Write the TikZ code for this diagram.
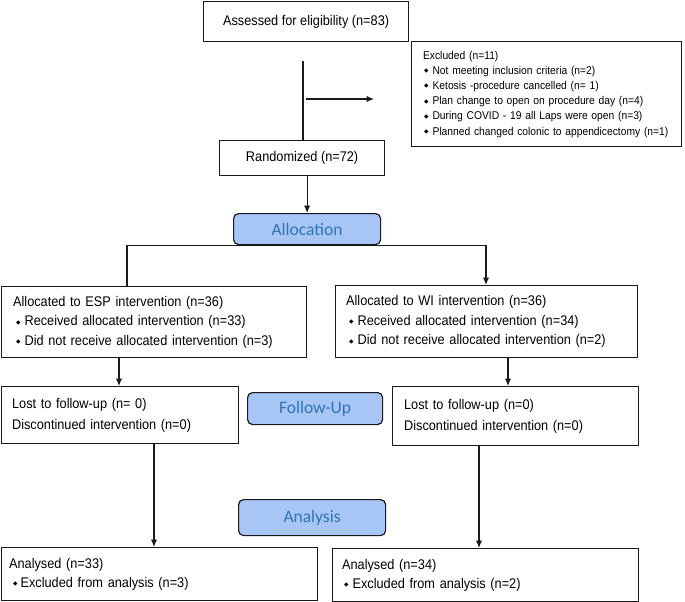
\documentclass[tikz,border=0pt]{standalone}
\usepackage{fontspec}
\setmainfont[FakeStretch=0.91]{Liberation Sans}
\newfontfamily\carl{Carlito}
\newfontfamily\djv{DejaVu Sans}
\usetikzlibrary{arrows.meta,calc}
\definecolor{pillfill}{HTML}{A7C5F5}
\definecolor{pilltext}{HTML}{2F75B5}
\definecolor{ink}{HTML}{1A1A1A}
\newcommand\bul[2]{\hspace*{#1}\raisebox{1.6pt}{\djv\fontsize{5.8}{5.8}\selectfont ◆}\hspace*{#2}}
\begin{document}
\begin{tikzpicture}[x=1pt,y=-1pt,
  bx/.style={draw=ink, line width=1.2pt, rectangle, anchor=north west, inner ysep=0pt, align=left,
    font=\fontsize{14}{19.5}\selectfont},
  cbx/.style={bx, align=center, inner xsep=0pt},
  pill/.style={draw=ink, line width=1.2pt, rectangle, rounded corners=5pt, fill=pillfill,
    anchor=north west, inner sep=0pt, text=pilltext, font=\carl\fontsize{17.5}{18}\selectfont},
  arr/.style={draw=ink, line width=1.2pt, -{Latex[length=7.5pt,width=6.5pt]}},
  ln/.style={draw=ink, line width=1.2pt}
]
\useasboundingbox (0,0) rectangle (685,602);

% top
\node[cbx, minimum width=205pt, minimum height=40pt] (assess) at (203,1) {Assessed for eligibility (n=83)};
\node[bx, minimum width=270pt, minimum height=105pt, inner xsep=11pt, text width=247pt,
  font=\fontsize{11.3}{15.2}\selectfont] (excl) at (411,41)
  {Excluded (n=11)\\
   \bul{1pt}{4pt}Not meeting inclusion criteria (n=2)\\
   \bul{1pt}{4pt}Ketosis -procedure cancelled (n= 1)\\
   \bul{1pt}{4pt}Plan change to open on procedure day (n=4)\\
   \bul{1pt}{4pt}During COVID - 19 all Laps were open (n=3)\\
   \bul{1pt}{4pt}Planned changed colonic to appendicectomy (n=1)};
\node[cbx, minimum width=165pt, minimum height=35pt] (rand) at (219,140) {Randomized (n=72)};

\coordinate (vtop) at (303,61);
\draw[ln] (vtop) -- (vtop |- rand.north);
\coordinate (ha) at (306,99);
\coordinate (hb) at (374,99);
\draw[arr] (ha) -- (hb);

% allocation
\node[pill, minimum width=147pt, minimum height=31pt] (alloc) at (233,213) {Allocation};
\draw[arr] (rand.south -| alloc.north) -- (alloc.north);
\draw[ink, line width=2.4pt] ($(alloc.south west)+(15,0)$) -- ($(alloc.south east)+(-17,0)$);

\node[bx, minimum width=305pt, minimum height=71pt, inner xsep=11pt, text width=282pt] (esp) at (1,286)
  {Allocated to ESP intervention (n=36)\\
   \bul{3pt}{4pt}Received allocated intervention (n=33)\\
   \bul{3pt}{4pt}Did not receive allocated intervention (n=3)};
\node[bx, minimum width=302pt, minimum height=72pt, inner xsep=10pt, text width=281pt] (wi) at (335,285)
  {Allocated to WI intervention (n=36)\\
   \bul{3pt}{4pt}Received allocated intervention (n=34)\\
   \bul{3pt}{4pt}Did not receive allocated intervention (n=2)};

\coordinate (brL) at (127,244);
\coordinate (brR) at (486,244);
\draw[arr] (esp.north -| brL) |- (alloc.south) -| (wi.north -| brR);

% follow-up
\node[bx, minimum width=237pt, minimum height=57pt, inner xsep=10pt, text width=216pt,
  font=\fontsize{14}{21}\selectfont] (fuL) at (1,386)
  {Lost to follow-up (n= 0)\\Discontinued intervention (n=0)};
\node[pill, minimum width=135pt, minimum height=32pt] (fup) at (247,392) {Follow-Up};
\node[bx, minimum width=246pt, minimum height=59pt, inner xsep=11pt, text width=223pt,
  font=\fontsize{14}{21}\selectfont] (fuR) at (392,386)
  {Lost to follow-up (n=0)\\Discontinued intervention (n=0)};

\coordinate (xL1) at (119,0);
\coordinate (xR1) at (508,0);
\draw[arr] (esp.south -| xL1) -- (fuL.north -| xL1);
\draw[arr] (wi.south -| xR1) -- (fuR.north -| xR1);

% analysis
\node[pill, minimum width=147pt, minimum height=36pt] (ana) at (238,499) {Analysis};
\node[bx, minimum width=316pt, minimum height=53pt, inner xsep=7pt, text width=301pt,
  font=\fontsize{14}{19}\selectfont] (anL) at (1,547)
  {Analysed (n=33)\\
   \bul{4pt}{3pt}Excluded from analysis (n=3)};
\node[bx, minimum width=306pt, minimum height=53pt, inner xsep=9pt, text width=287pt,
  font=\fontsize{14}{19}\selectfont] (anR) at (332,548)
  {Analysed (n=34)\\
   \bul{2pt}{4pt}Excluded from analysis (n=2)};

\coordinate (xL2) at (154,0);
\coordinate (xR2) at (479,0);
\draw[arr] (fuL.south -| xL2) -- (anL.north -| xL2);
\draw[arr] (fuR.south -| xR2) -- (anR.north -| xR2);
\end{tikzpicture}
\end{document}
